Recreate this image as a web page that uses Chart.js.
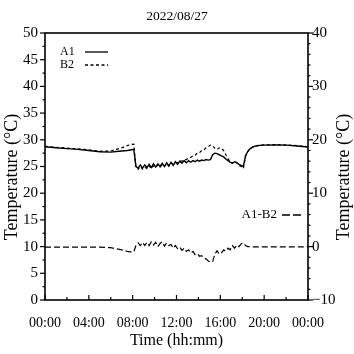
<!DOCTYPE html>
<html>
<head>
<meta charset="utf-8">
<script src="https://cdn.jsdelivr.net/npm/chart.js@4.4.0/dist/chart.umd.min.js"></script>
<style>
  html, body { margin: 0; padding: 0; background: #fff; }
  #wrap { width: 354px; height: 354px; }
</style>
</head>
<body>
<div id="wrap"><canvas id="chart" width="354" height="354"></canvas></div>
<script>
// time of day in hours
var hours = [0, 1, 2, 3, 4, 5, 6, 6.5, 7, 7.5, 7.8,
  8.1, 8.3, 8.5, 8.7, 8.9, 9.1, 9.3, 9.5, 9.7, 9.9,
  10.1, 10.3, 10.5, 10.7, 10.9, 11.1, 11.3, 11.5, 11.7, 11.9,
  12.1, 12.3, 12.5, 12.7, 12.9, 13.1, 13.3, 13.5, 13.7, 13.9,
  14.1, 14.3, 14.5, 14.7, 14.9, 15.1, 15.3, 15.5, 15.7, 15.9,
  16.1, 16.3, 16.5, 16.7, 16.9, 17.1, 17.3, 17.5, 17.7, 17.9,
  18.1, 18.3, 18.5, 18.7, 19, 19.3, 19.6, 20, 21, 22, 23, 24];

var a1 = [28.7, 28.5, 28.35, 28.2, 28.0, 27.75, 27.7, 27.8, 27.9, 28.0, 28.1,
  28.2, 25.0, 24.7, 25.3, 24.7, 25.3, 24.8, 25.4, 24.8, 25.5,
  24.9, 25.5, 25.0, 25.6, 25.0, 25.7, 25.1, 25.8, 25.2, 25.9,
  25.4, 26.0, 25.6, 26.1, 25.7, 26.1, 25.8, 26.1, 25.9, 26.2,
  26.0, 26.2, 26.1, 26.3, 26.2, 26.3, 27.2, 27.5, 27.4, 27.2,
  27.0, 26.8, 26.4, 26.1, 25.8, 25.6, 25.9, 25.7, 25.4, 25.2,
  25.0, 27.0, 27.8, 28.3, 28.7, 28.85, 28.95, 29.0, 29.05, 29.0, 28.85, 28.65];

var b2 = [28.8, 28.6, 28.45, 28.3, 28.1, 27.85, 27.9, 28.2, 28.5, 28.9, 29.1,
  29.2, 24.8, 24.5, 25.0, 24.5, 24.9, 24.6, 25.1, 24.6, 25.1,
  24.8, 25.3, 24.9, 25.3, 25.0, 25.5, 25.1, 25.7, 25.4, 25.8,
  25.7, 26.0, 26.0, 26.3, 26.3, 26.6, 26.7, 27.0, 27.1, 27.5,
  27.6, 28.0, 28.1, 28.5, 28.7, 29.0, 28.9, 28.4, 28.2, 28.5,
  28.4, 28.0, 27.2, 26.5, 25.9, 25.6, 26.0, 25.7, 25.2, 25.0,
  24.6, 26.9, 27.8, 28.3, 28.7, 28.9, 29.0, 29.05, 29.1, 29.05, 28.9, 28.7];

var diff = [-0.1, -0.1, -0.1, -0.1, -0.1, -0.1, -0.2, -0.4, -0.6, -0.9, -1.0,
  -1.0, 0.2, 0.7, 0.2, 0.8, 0.2, 0.8, 0.2, 0.9, 0.3,
  0.8, 0.0, 0.6, 0.9, 0.1, 0.7, 0.2, 0.4, -0.3, 0.2,
  -0.4, -0.1, -0.7, -0.3, -0.9, -0.6, -1.2, -0.9, -1.5, -1.3,
  -1.8, -1.7, -2.2, -2.3, -2.7, -2.9, -2.8, -1.4, -0.8, -1.4,
  -1.2, -0.6, -0.9, -0.3, -0.6, 0.2, -0.3, 0.3, 0.0, 0.5,
  0.7, 0.2, 0.0, 0.0, -0.05, -0.05, -0.05, -0.05, -0.05, -0.05, -0.05, -0.05];

var titleText = '2022/08/27';
var seriesNames = ['A1', 'B2', 'A1-B2'];
var yTitle = 'Temperature (°C)';

var serif = 'Liberation Serif';

function pts(vals) {
  return vals.map(function(v, i) { return { x: hours[i], y: v }; });
}

function hhmm(v) {
  var h = v % 24;
  return (h < 10 ? '0' : '') + h + ':00';
}

// frame, tick marks, vertical axis titles and the little legends
var decorate = {
  id: 'decorate',
  afterDraw: function(chart) {
    var ctx = chart.ctx;
    var a = chart.chartArea;
    ctx.save();
    ctx.strokeStyle = '#000';
    ctx.lineWidth = 1.6;
    ctx.strokeRect(a.left, a.top, a.right - a.left, a.bottom - a.top);

    ctx.lineWidth = 1.2;
    var sx = chart.scales.x;
    sx.ticks.forEach(function(t) {
      var px = sx.getPixelForValue(t.value);
      var len = (t.value % 4 === 0) ? 5 : 3;
      ctx.beginPath();
      ctx.moveTo(px, a.bottom);
      ctx.lineTo(px, a.bottom - len);
      ctx.stroke();
    });
    var sy = chart.scales.y;
    sy.ticks.forEach(function(t) {
      var py = sy.getPixelForValue(t.value);
      var len = (t.value % 5 === 0) ? 5 : 2.5;
      ctx.beginPath();
      ctx.moveTo(a.left, py);
      ctx.lineTo(a.left - len, py);
      ctx.stroke();
    });
    var sy1 = chart.scales.y1;
    sy1.ticks.forEach(function(t) {
      var py = sy1.getPixelForValue(t.value);
      var len = (t.value % 10 === 0) ? 5 : 2.5;
      ctx.beginPath();
      ctx.moveTo(a.right, py);
      ctx.lineTo(a.right + len, py);
      ctx.stroke();
    });

    // vertical titles, both read bottom to top
    ctx.fillStyle = '#000';
    ctx.font = '18px "' + serif + '"';
    ctx.textAlign = 'center';
    ctx.textBaseline = 'middle';
    [12, 344].forEach(function(x) {
      ctx.save();
      ctx.translate(x, 177);
      ctx.rotate(-Math.PI / 2);
      ctx.fillText(yTitle, 0, 0);
      ctx.restore();
    });

    // legends
    ctx.font = '12px "' + serif + '"';
    ctx.textAlign = 'left';
    ctx.fillText(seriesNames[0], 60, 52);
    ctx.fillText(seriesNames[1], 60, 65);
    ctx.lineWidth = 1.3;
    ctx.beginPath(); ctx.moveTo(85, 52); ctx.lineTo(108, 52); ctx.stroke();
    ctx.setLineDash([3, 2.5]);
    ctx.beginPath(); ctx.moveTo(85, 65); ctx.lineTo(108, 65); ctx.stroke();
    ctx.textAlign = 'right';
    ctx.font = '13px "' + serif + '"';
    ctx.fillText(seriesNames[2], 277, 215);
    ctx.setLineDash([8, 3]);
    ctx.beginPath(); ctx.moveTo(282, 215); ctx.lineTo(301, 215); ctx.stroke();
    ctx.restore();
  }
};

var ctx = document.getElementById('chart').getContext('2d');
new Chart(ctx, {
  type: 'line',
  data: {
    datasets: [
      { label: seriesNames[1], data: pts(b2), yAxisID: 'y', borderColor: '#000', borderWidth: 1.2, borderDash: [3, 2.5], pointRadius: 0, tension: 0 },
      { label: seriesNames[0], data: pts(a1), yAxisID: 'y', borderColor: '#000', borderWidth: 1.4, pointRadius: 0, tension: 0 },
      { label: seriesNames[2], data: pts(diff), yAxisID: 'y1', borderColor: '#000', borderWidth: 1.2, borderDash: [6, 3], pointRadius: 0, tension: 0 }
    ]
  },
  options: {
    responsive: false,
    animation: false,
    layout: { padding: 0 },
    plugins: {
      legend: { display: false },
      tooltip: { enabled: false },
      title: {
        display: true,
        text: titleText,
        color: '#000',
        font: { family: serif, size: 13.5, weight: 'normal' },
        padding: { top: 8.6, bottom: 8.2 }
      }
    },
    scales: {
      x: {
        type: 'linear', min: 0, max: 24,
        grid: { display: false, drawTicks: false },
        border: { display: false },
        ticks: {
          stepSize: 2, autoSkip: false, maxRotation: 0, padding: 15, color: '#000',
          font: { family: serif, size: 14 },
          callback: function(v) { return v % 4 === 0 ? hhmm(v) : ''; }
        },
        title: { display: true, text: 'Time (hh:mm)', color: '#000', font: { family: serif, size: 16 }, padding: { top: 0, bottom: 4 } },
        afterFit: function(s) { s.height = 54; }
      },
      y: {
        position: 'left', min: 0, max: 50,
        grid: { display: false, drawTicks: false },
        border: { display: false },
        ticks: {
          stepSize: 2.5, autoSkip: false, padding: 7, color: '#000',
          font: { family: serif, size: 15 },
          callback: function(v) { return v % 5 === 0 ? v : ''; }
        },
        afterFit: function(s) { s.width = 45; }
      },
      y1: {
        position: 'right', min: -10, max: 40,
        grid: { display: false, drawTicks: false },
        border: { display: false },
        ticks: {
          stepSize: 2, autoSkip: false, padding: 4, color: '#000',
          font: { family: serif, size: 15 },
          callback: function(v) { return v % 10 === 0 ? (v < 0 ? '\u2212' + (-v) : v) : ''; }
        },
        afterFit: function(s) { s.width = 46; }
      }
    }
  },
  plugins: [decorate]
});
</script>
</body>
</html>
